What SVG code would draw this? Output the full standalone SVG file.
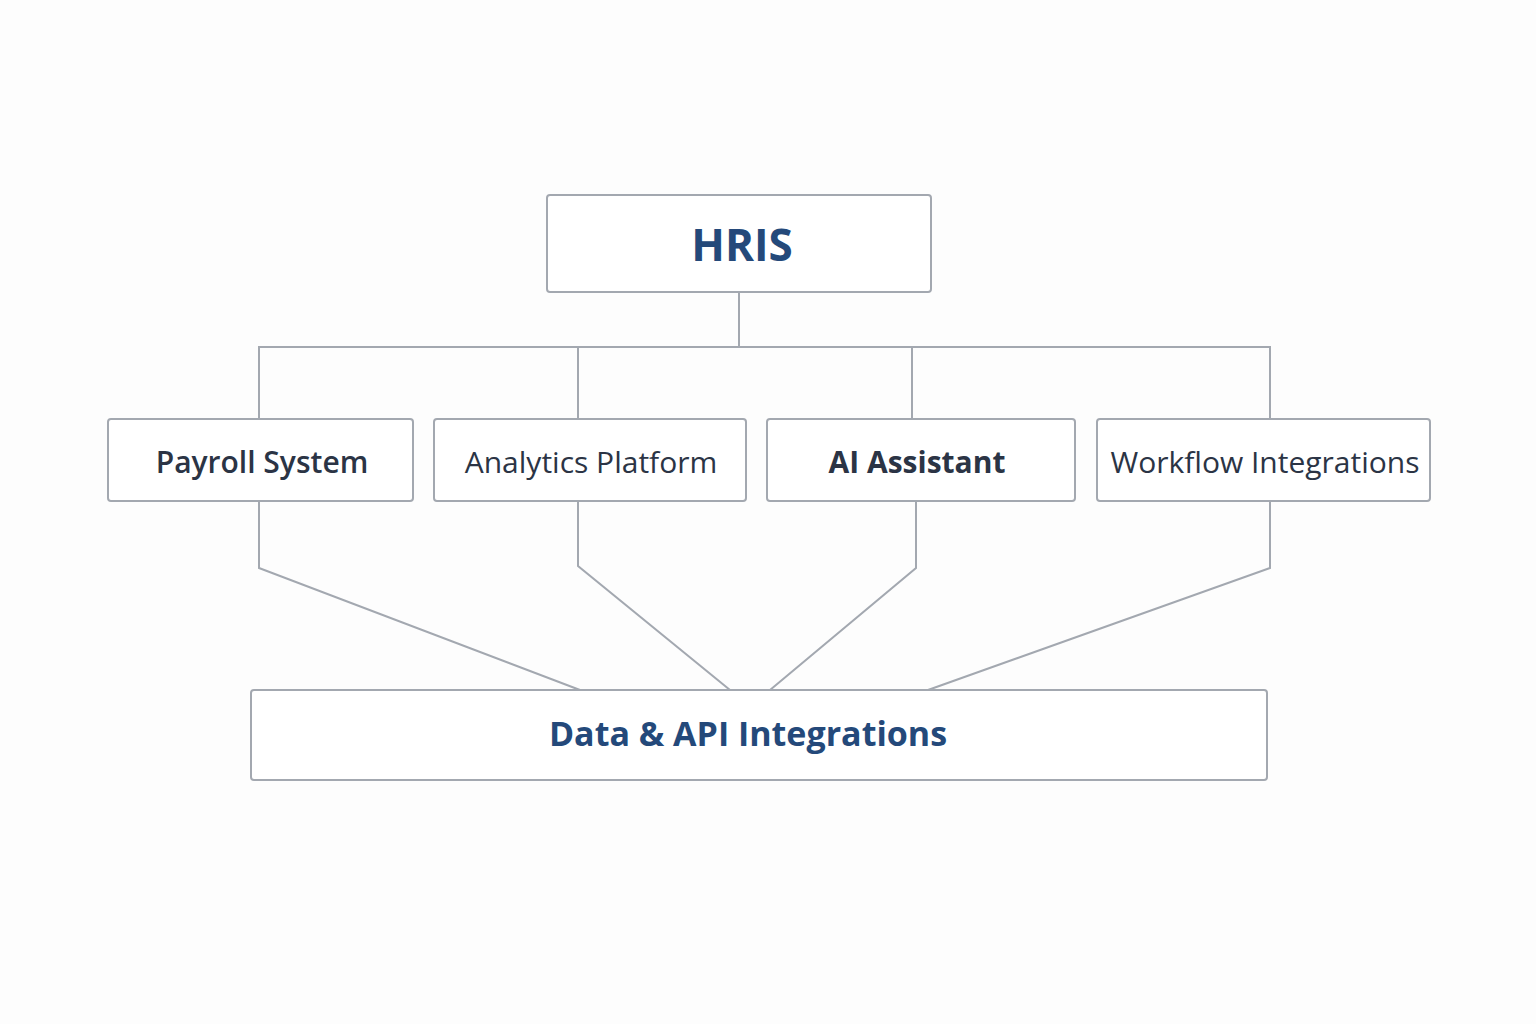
<svg xmlns="http://www.w3.org/2000/svg" width="1536" height="1024" viewBox="0 0 1536 1024">
<style>
.box{fill:#fff;stroke:#a3a8b0;stroke-width:2}
.ln{fill:none;stroke:#a3a8b0;stroke-width:2}
.t{font-family:"Open Sans","Noto Sans",sans-serif;fill:#2b3445;font-size:30px;text-anchor:middle}
.h{font-family:"Open Sans","Noto Sans",sans-serif;fill:#24497a;font-weight:bold;text-anchor:middle}
</style>
<rect width="1536" height="1024" fill="#fdfdfd"/>
<g id="connectors">
<path class="ln" d="M739 292V347M259 419V347H1270V419M578 347V419M912 347V419"/>
<path class="ln" d="M259 501V568L580 690M578 501V566L730 690M916 501V568L770 690M1270 501V568L928 690"/>
</g>
<g id="hris"><rect class="box" x="547" y="195" width="384" height="97" rx="3"/><text class="h" x="742" y="261" font-size="44">HRIS</text></g>
<g id="payroll"><rect class="box" x="108" y="419" width="305" height="82" rx="3"/><text class="t" x="262" y="473" font-weight="600">Payroll System</text></g>
<g id="analytics"><rect class="box" x="434" y="419" width="312" height="82" rx="3"/><text class="t" x="591" y="473">Analytics Platform</text></g>
<g id="ai"><rect class="box" x="767" y="419" width="308" height="82" rx="3"/><text class="t" x="917" y="473" font-weight="bold">AI Assistant</text></g>
<g id="workflow"><rect class="box" x="1097" y="419" width="333" height="82" rx="3"/><text class="t" x="1265" y="473" font-size="29">Workflow Integrations</text></g>
<g id="data"><rect class="box" x="251" y="690" width="1016" height="90" rx="3"/><text class="h" x="748" y="746" font-size="34">Data &amp; API Integrations</text></g>
</svg>
